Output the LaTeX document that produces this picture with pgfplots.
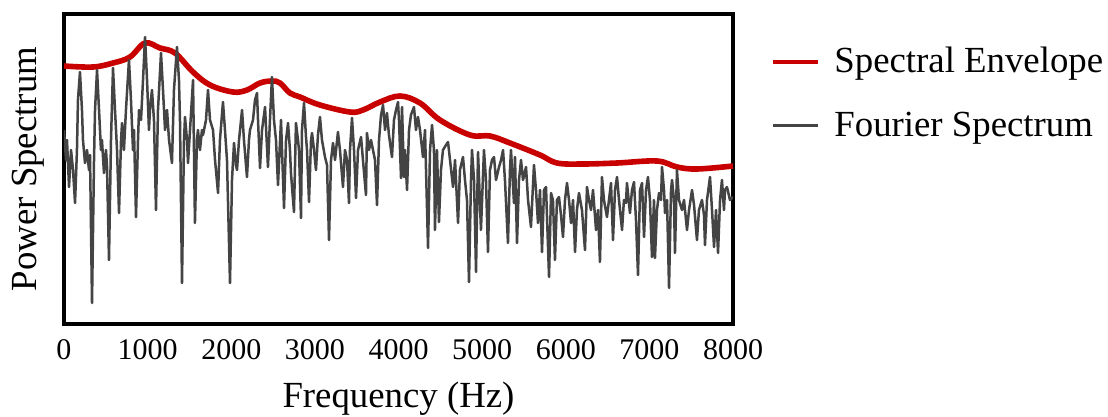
\documentclass[border=0pt]{standalone}
\usepackage{fontspec}
\setmainfont{Liberation Serif}
\usepackage{pgfplots}
\pgfplotsset{compat=1.18}
\definecolor{envred}{HTML}{C80000}
\definecolor{fgray}{HTML}{444444}
\begin{document}
\begin{tikzpicture}
\useasboundingbox (-32bp,-46.5bp) rectangle (522bp,162bp);
\begin{axis}[
  at={(0,0)}, anchor=south west,
  scale only axis, width=334.5bp, height=155bp,
  xmin=0, xmax=8000, ymin=0, ymax=310,
  xtick={0,1000,...,8000}, ytick=\empty,
  major tick length=0pt,
  axis line style={line width=2bp},
  /pgf/number format/assume math mode=true,
  /pgf/number format/set thousands separator={},
  xticklabel style={font=\fontsize{15bp}{18bp}\selectfont, yshift=-4.5bp},
  xlabel={Frequency (Hz)},
  ylabel={Power Spectrum},
  xlabel style={font=\fontsize{18.4bp}{22bp}\selectfont, at={(0.5,0)}, anchor=center, yshift=-37.5bp},
  ylabel style={font=\fontsize{18.4bp}{22bp}\selectfont, at={(0,0.5)}, anchor=center, rotate=0, yshift=18bp},
  legend style={at={(1.0,1.0)}, anchor=north west, xshift=19bp, yshift=-14.5bp, draw=none, fill=none,
    font=\fontsize{18.4bp}{22bp}\selectfont, row sep=14bp, inner sep=0pt},
  legend cell align=left,
  legend image code/.code={\draw[#1] (0bp,0bp) -- (22.5bp,0bp); \path (27.5bp,0bp);},
]
\addplot[envred, line width=2.8bp, smooth, tension=0.6, forget plot] coordinates {
(0,258) (347,257) (586,261) (789,267) (969,281) (1148,276) (1327,271) (1543,252)
(1746,239) (2021,232) (2188,234) (2344,241) (2487,243) (2583,241) (2702,231)
(2822,227) (3061,219) (3420,212) (3575,214) (3779,222) (4018,228) (4257,221)
(4496,204) (4855,189) (5094,188) (5333,181) (5692,169) (5895,161) (6206,160)
(6613,161) (7091,163) (7330,157) (7569,155) (8000,158)
};
\addplot[fgray, line width=1.25bp, line join=round, forget plot] coordinates {
(0,194) (24,164) (36,184) (60,137) (84,174) (108,154) (132,121) (155,174) (167,224)
(191,252) (215,214) (227,184) (251,161) (275,174) (299,154) (311,169) (335,21)
(359,164) (371,214) (395,254) (419,214) (442,174) (454,184) (478,151) (502,174)
(514,159) (538,64) (562,184) (586,256) (610,214) (634,174) (658,111) (682,184)
(694,201) (717,174) (741,214) (777,264) (801,224) (825,174) (837,194) (861,107)
(885,184) (897,214) (921,204) (945,244) (969,287) (993,244) (1016,194) (1028,214)
(1052,234) (1076,204) (1100,114) (1124,214) (1160,271) (1184,234) (1208,194)
(1232,214) (1256,184) (1291,161) (1315,234) (1351,277)
(1375,244) (1387,204) (1411,41) (1435,184) (1447,207) (1471,184) (1483,161)
(1507,194) (1543,244) (1566,101) (1590,184) (1602,194) (1626,174) (1650,194)
(1662,189) (1698,204) (1722,234) (1746,204) (1782,194) (1806,164) (1842,131)
(1865,184) (1901,222) (1925,194) (1949,164) (1985,41) (2009,144) (2033,181)
(2057,159) (2069,154) (2093,184) (2129,214) (2152,184) (2188,147) (2212,184)
(2224,194) (2260,204) (2284,224) (2308,231) (2320,204) (2344,156) (2368,194)
(2404,217) (2439,157) (2463,204) (2487,247) (2511,204) (2535,184) (2559,139)
(2595,204) (2607,174) (2631,116) (2655,184) (2679,201)
(2702,174) (2714,151) (2750,112) (2774,201) (2798,184) (2810,174) (2834,106)
(2846,194) (2870,221) (2894,187) (2906,174) (2930,122) (2954,184) (2966,191)
(2990,174) (3013,154) (3037,189) (3061,207) (3085,184) (3121,167) (3145,159)
(3169,84) (3193,164) (3217,181) (3241,164) (3276,192) (3300,174) (3336,137)
(3360,174) (3384,164) (3408,121) (3420,174) (3444,206) (3468,174) (3492,126)
(3516,174) (3552,187) (3575,164) (3611,129) (3623,191) (3647,174) (3671,184)
(3695,174) (3719,164) (3743,119) (3767,184) (3791,209) (3815,219) (3839,194)
(3862,211) (3886,189) (3922,167) (3946,204) (3970,214) (3994,222) (4006,204)
(4030,146)
(4042,217) (4066,147) (4078,174) (4102,134) (4126,194) (4149,209) (4185,217)
(4209,194) (4233,207) (4257,194) (4293,167) (4317,194) (4353,76) (4377,174)
(4401,199) (4424,174) (4436,94) (4460,174) (4484,102) (4508,154) (4532,174)
(4568,179) (4592,182) (4616,164) (4652,137) (4676,164) (4712,101) (4735,154)
(4771,167) (4795,144) (4819,124) (4843,42) (4867,144) (4879,174) (4903,144)
(4927,52) (4951,172) (4986,94) (5022,174) (5046,144) (5070,72) (5094,154)
(5118,164) (5142,167) (5166,144) (5202,157) (5226,164) (5250,174) (5273,144)
(5309,81) (5333,154) (5345,174) (5381,121)
(5393,167) (5417,81) (5441,144) (5465,164) (5489,144) (5525,157) (5549,124)
(5584,97) (5620,159) (5644,134) (5668,101) (5692,134) (5716,72) (5740,134)
(5764,137) (5800,47) (5824,131) (5847,124) (5871,64) (5895,124) (5919,127)
(5943,109) (5967,87) (5991,124) (6015,141) (6039,124) (6063,101) (6087,124)
(6111,72) (6134,114) (6158,131) (6194,114) (6230,74) (6254,137) (6278,124)
(6302,114) (6326,134) (6362,94) (6386,114) (6409,62) (6433,147) (6457,124)
(6493,107) (6517,124) (6541,141) (6565,84) (6589,134) (6613,147) (6637,124)
(6673,94) (6696,124) (6720,121)
(6732,141) (6768,111) (6792,134) (6816,142) (6840,104) (6864,49) (6888,134)
(6912,141) (6936,87) (6960,134) (6983,147) (7007,124) (7031,67) (7055,124)
(7067,66) (7091,114) (7115,131) (7139,124) (7151,157) (7175,134) (7187,111)
(7211,124) (7235,36) (7259,134) (7271,144) (7294,124) (7306,71) (7330,154)
(7354,124) (7390,114) (7414,124) (7450,94) (7474,114) (7510,134) (7534,119)
(7569,84) (7593,114) (7629,124) (7653,109) (7665,79) (7689,124) (7725,147)
(7749,114) (7773,77) (7797,114) (7821,71) (7845,124) (7868,144) (7892,114)
(7904,134) (7928,137) (7964,124) (8000,127)
};
\addlegendimage{envred, line width=2bp}
\addlegendentry{Spectral Envelope}
\addlegendimage{fgray, line width=1.4bp}
\addlegendentry{Fourier Spectrum}
\end{axis}
\end{tikzpicture}
\end{document}
